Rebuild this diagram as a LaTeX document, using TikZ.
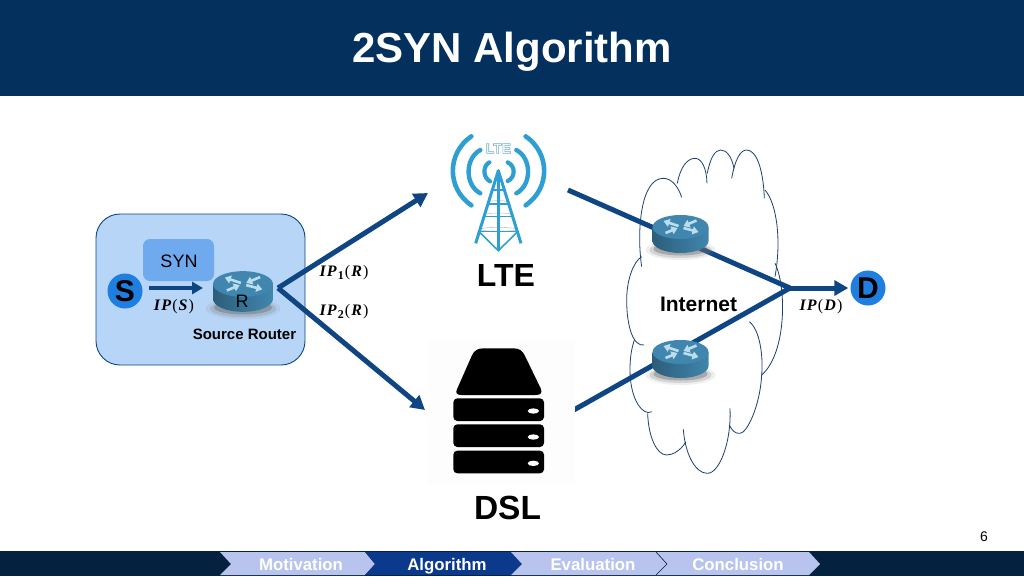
\documentclass[tikz,border=0pt]{standalone}
\usepackage{fontspec}
\setmainfont{Liberation Sans}
\newfontfamily\mathbi{Liberation Serif}[LetterSpace=7,BoldItalicFont={Liberation Serif Bold Italic}]
\usetikzlibrary{arrows.meta,shapes.geometric,calc}
\definecolor{headblue}{HTML}{04305E}
\definecolor{barblue}{HTML}{04223F}
\definecolor{linkblue}{HTML}{0F4582}
\definecolor{boxblue}{HTML}{B7D5F7}
\definecolor{synblue}{HTML}{6FAAEE}
\definecolor{dotblue}{HTML}{1E7FE0}
\definecolor{navlight}{HTML}{B8C4EE}
\definecolor{navdark}{HTML}{0B3A8C}
\definecolor{towerblue}{HTML}{2F9FD3}
\definecolor{cloudline}{HTML}{1C3F6E}
\definecolor{routertop}{HTML}{4086AE}
\definecolor{routerarrow}{HTML}{BBDDEE}
\newcommand{\fs}[1]{\fontsize{#1}{#1}\selectfont}
\newcommand{\ipbold}[2]{{\mathbi\fs{16}\textbf{\textit{IP}}#1(\textbf{\textit{#2}})}}
\newcommand{\subf}[1]{\raisebox{-2.5pt}{\fs{12}\textbf{#1}}}
\newcommand{\outlined}[1]{\special{pdf: code q 2 Tr 0.6 w 0.45 0.68 0.8 RG 1 1 1 rg}#1\special{pdf: code Q}}
\newcommand{\routericon}[3]{%
  \begin{scope}[shift={(#1,#2)},scale=#3]
    \fill[gray,opacity=.12] (0,23) ellipse (35 and 10);
    \fill[gray,opacity=.25] (0,23) ellipse (31 and 8);
    \fill[gray!70!black,opacity=.35] (0,22) ellipse (27 and 6.5);
    \shade[left color=routertop!70!black,right color=routertop,middle color=routertop!85!black]
      (-28,0) -- (-28,14) arc[start angle=180,end angle=360,x radius=28,y radius=-12] -- (28,0) -- cycle;
    \fill[routertop] (0,0) ellipse (28 and 12);
    \draw[routerarrow,line width=2.6pt,-{Triangle[length=6pt,width=8pt]}] (-2,-1) -- (-17,-6);
    \draw[routerarrow,line width=2.6pt,-{Triangle[length=6pt,width=8pt]}] (3,1) -- (18,5);
    \draw[routerarrow,line width=2.6pt,-{Triangle[length=6pt,width=8pt]}] (16,-6.5) -- (3,-1);
    \draw[routerarrow,line width=2.6pt,-{Triangle[length=6pt,width=8pt]}] (-15,6) -- (-3,1);
  \end{scope}}
\tikzset{
  x=1pt,y=-1pt,
  link/.style={draw=linkblue,line width=5pt},
  linkarrow/.style={link,-{Triangle[length=14pt,width=15pt]}},
  smallarrow/.style={draw=linkblue,line width=3.6pt,-{Triangle[length=11pt,width=12pt]}},
  cloudstroke/.style={draw=cloudline,line width=.8pt},
  arcstroke/.style={draw=towerblue,line cap=round},
  towerstroke/.style={draw=towerblue,line width=3pt},
  dot/.style={circle,fill=dotblue,minimum size=35pt,inner sep=0pt,font=\bfseries\fs{30}},
  navtext/.style={font=\bfseries\fs{16.8},text=white,anchor=base},
  lab/.style={inner sep=0pt,text=black},
}
\begin{document}
\begin{tikzpicture}
\useasboundingbox (0,0) rectangle (1024,576);
\fill[white] (0,0) rectangle (1024,576);
% header and footer
\fill[headblue] (0,0) rectangle (1024,96);
\node[lab,text=white,font=\bfseries\fs{42},anchor=base] (title) at (512,62) {2SYN Algorithm};
\fill[barblue] (0,551) rectangle (1024,576);
\fill[navlight] (220,552) -- (365,552) -- (375,564) -- (365,575) -- (220,575) -- (231,564) -- cycle;
\fill[navdark] (365,552) -- (511,552) -- (522,564) -- (511,575) -- (365,575) -- (375,564) -- cycle;
\fill[navlight] (511,552) -- (656,552) -- (667,564) -- (656,575) -- (511,575) -- (522,564) -- cycle;
\fill[navlight] (656,552) -- (809,552) -- (820,564) -- (809,575) -- (656,575) -- (667,564) -- cycle;
\draw[barblue,line width=.6pt] (656,552) -- (667,564) -- (656,575);
\node[lab,navtext] (n1) at (301,570) {Motivation};
\node[lab,navtext] (n2) at (447,570) {Algorithm};
\node[lab,navtext] (n3) at (593,570) {Evaluation};
\node[lab,navtext] (n4) at (738,570) {Conclusion};
\node[lab,font=\fs{14}] (page) at (984,537) {6};
% source router box
\node[draw=linkblue,fill=boxblue,rounded corners=24pt,line width=.9pt,minimum width=209pt,minimum height=151pt,inner sep=0pt] (srcbox) at (200.5,289.5) {};
\node[fill=synblue,rounded corners=7pt,minimum width=71pt,minimum height=42pt,inner sep=0pt] (synbox) at (178.5,260) {};
\node[lab,font=\fs{18}] (syn) at (179,261) {SYN};
\routericon{243}{284}{1.07}
\node[lab,font=\fs{18}] (R) at (242,301) {R};
\node[dot] (S) at (125,291) {S};
\coordinate (routerin) at (203,288);
\draw[smallarrow] (S.center) ++(24,-3) -- (routerin);
\node[lab] (ips) at (174,306.5) {\ipbold{}{S}};
\node[lab,font=\bfseries\fs{15}] (srclabel) at (244.5,334) {Source Router};
\node[lab] (ip1) at (344,273) {\ipbold{\subf{1}}{R}};
\node[lab] (ip2) at (344,312) {\ipbold{\subf{2}}{R}};
% cloud
\begin{scope}[shift={(600,140)},scale=1/3]
  \draw[cloudstroke] (125,380) .. controls (110,280) and (120,115) .. (190,115) .. controls (215,115) and (235,140) .. (245,172);
  \draw[cloudstroke] (232,130) .. controls (240,85) and (260,55) .. (285,55) .. controls (305,55) and (320,85) .. (321,130);
  \draw[cloudstroke] (322,100) .. controls (330,55) and (345,30) .. (362,30) .. controls (380,30) and (395,50) .. (402,85);
  \draw[cloudstroke] (395,115) .. controls (405,60) and (420,30) .. (440,30) .. controls (470,30) and (490,90) .. (493,175);
  \draw[cloudstroke] (495,150) .. controls (530,190) and (545,300) .. (525,410);
  \draw[cloudstroke] (525,370) .. controls (560,440) and (560,640) .. (485,705);
  \draw[cloudstroke] (448,545) .. controls (480,570) and (490,650) .. (485,705) .. controls (480,800) and (440,880) .. (420,880) .. controls (405,882) and (395,870) .. (388,855);
  \draw[cloudstroke] (390,805) .. controls (395,900) and (360,1000) .. (322,1000) .. controls (285,1000) and (255,940) .. (250,868);
  \draw[cloudstroke] (258,905) .. controls (240,935) and (215,945) .. (200,945) .. controls (170,945) and (145,890) .. (143,820);
  \draw[cloudstroke] (155,815) .. controls (130,830) and (90,780) .. (90,690) .. controls (90,650) and (95,625) .. (103,600);
  \draw[cloudstroke] (132,615) .. controls (100,620) and (80,560) .. (80,480) .. controls (80,420) and (100,365) .. (125,350);
\end{scope}
% connectors
\coordinate (fork) at (278,288);
\coordinate (ltein) at (428,193);
\coordinate (dslin) at (425,410);
\coordinate (lteout) at (568,190);
\coordinate (dslout) at (572,411);
\coordinate (merge) at (790,288);
\node[dot] (D) at (868,288) {D};
\draw[linkarrow] (fork) -- (ltein);
\draw[linkarrow] (fork) -- (dslin);
\draw[link] (lteout) -- (merge);
\draw[link] (dslout) -- (merge);
\draw[linkarrow,shorten >=2pt] (merge) -- (D.west);
\routericon{680.5}{227}{1}
\routericon{680.5}{352}{1}
\node[lab,font=\bfseries\fs{21}] (inet) at (698.5,304) {Internet};
\node[lab] (ipd) at (821,306.5) {\ipbold{}{D}};
% LTE tower
\begin{scope}[shift={(430,120)},scale=1/3]
  \draw[arcstroke,line width=4.6pt] (124,49) .. controls (50,100) and (50,205) .. (124,256);
  \draw[arcstroke,line width=4.6pt] (287,49) .. controls (361,100) and (361,205) .. (287,256);
  \draw[arcstroke,line width=4.4pt] (151,90) .. controls (104,115) and (104,195) .. (151,220);
  \draw[arcstroke,line width=4.4pt] (259,90) .. controls (306,115) and (306,195) .. (259,220);
  \draw[arcstroke,line width=4.2pt] (178,127) .. controls (158,138) and (158,172) .. (180,184);
  \draw[arcstroke,line width=4.2pt] (233,127) .. controls (257,138) and (257,172) .. (233,183);
  \foreach \yy/\rx in {248/33,285/43,328/55}{
    \draw[gray!45,line width=.6pt] (205,\yy) ellipse (\rx*1 and 6);
  }
  \draw[towerstroke] (205,152) -- (137,370);
  \draw[towerstroke] (205,152) -- (273,370);
  \draw[towerstroke,line width=3.6pt] (205,152) -- (205,392);
  \draw[towerstroke,line width=1.6pt] (188,210) -- (222,210) (172,252) -- (238,252) (160,290) -- (250,290) (147,335) -- (263,335);
  \draw[towerstroke,line width=1.6pt] (147,335) -- (205,392) -- (263,335);
  \fill[towerblue] (205,152) circle (5);
\end{scope}
\node[lab,font=\bfseries\fs{14}] (lteicon) at (498.5,148.5) {\outlined{LTE}};
\node[lab,font=\bfseries\fs{32}] (lte) at (506,275) {LTE};
% server
\fill[black!0.7] (428,340) rectangle (575,485);
\begin{scope}[shift={(420,330)},scale=1/3]
  \fill[black] (110,180) -- (155,78) .. controls (162,62) and (172,55) .. (190,55) -- (280,55) .. controls (298,55) and (308,62) .. (315,78) -- (362,175) .. controls (368,190) and (362,195) .. (345,195) -- (125,195) .. controls (112,195) and (106,190) .. (110,180) -- cycle;
  \foreach \yt in {205,283,362}{
    \fill[black,rounded corners=4pt] (100,\yt) rectangle (372,\yt+68);
    \fill[white] (340,\yt+38) ellipse (17 and 8);
  }
\end{scope}
\node[lab,font=\bfseries\fs{33.5}] (dsl) at (507.5,508) {DSL};
\end{tikzpicture}
\end{document}
